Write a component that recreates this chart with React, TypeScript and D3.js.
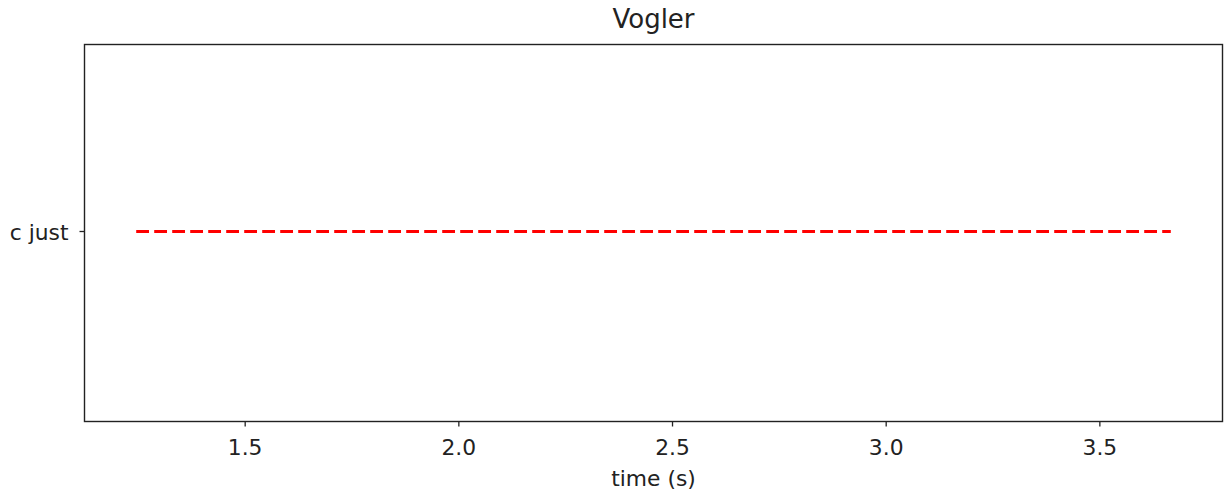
import React from "react";
import * as d3 from "d3";

const categories = ["c just"];
const segStart = [1.245];
const segEnd = [3.666];
const xTicks = [1.5, 2.0, 2.5, 3.0, 3.5];
const title = "Vogler";
const xLabel = "time (s)";

export default function App() {
  const W = 1225, H = 493;
  const left = 84.5, right = 1222.5, top = 44.5, bottom = 421.5;
  const x = d3.scaleLinear().domain([1.124, 3.787]).range([left, right]);
  const y = d3.scalePoint().domain(categories).range([top, bottom]).padding(0.5);
  const font = "DejaVu Sans, sans-serif";
  const fs = 21.8;
  return (
    <svg width={W} height={H} style={{ position: "absolute", left: 0, top: 0 }}>
      <rect x={0} y={0} width={W} height={H} fill="white" />
      {categories.map((c, i) => (
        <line key={c} x1={x(segStart[i])} x2={x(segEnd[i])} y1={(y(c) as number) - 1.5} y2={(y(c) as number) - 1.5}
          stroke="red" strokeWidth={2.8} strokeDasharray="12.8,5.2" />
      ))}
      <rect x={left} y={top} width={right - left} height={bottom - top} fill="none" stroke="#222" strokeWidth={1.4} />
      {xTicks.map((t) => (
        <g key={t}>
          <line x1={x(t)} x2={x(t)} y1={bottom} y2={bottom + 5} stroke="#222" strokeWidth={1.3} />
          <text x={x(t)} y={bottom + 33} textAnchor="middle" fontFamily={font} fontSize={fs} fill="#222">{t.toFixed(1)}</text>
        </g>
      ))}
      {categories.map((c) => (
        <g key={c}>
          <line x1={left - 5} x2={left} y1={(y(c) as number) - 1.5} y2={(y(c) as number) - 1.5} stroke="#222" strokeWidth={1.3} />
          <text x={left - 16} y={(y(c) as number) + 6.5} textAnchor="end" fontFamily={font} fontSize={fs} fill="#222">{c}</text>
        </g>
      ))}
      <text x={(left + right) / 2} y={486} textAnchor="middle" fontFamily={font} fontSize={fs} fill="#222">{xLabel}</text>
      <text x={(left + right) / 2} y={28} textAnchor="middle" fontFamily={font} fontSize={26} fill="#222">{title}</text>
    </svg>
  );
}
